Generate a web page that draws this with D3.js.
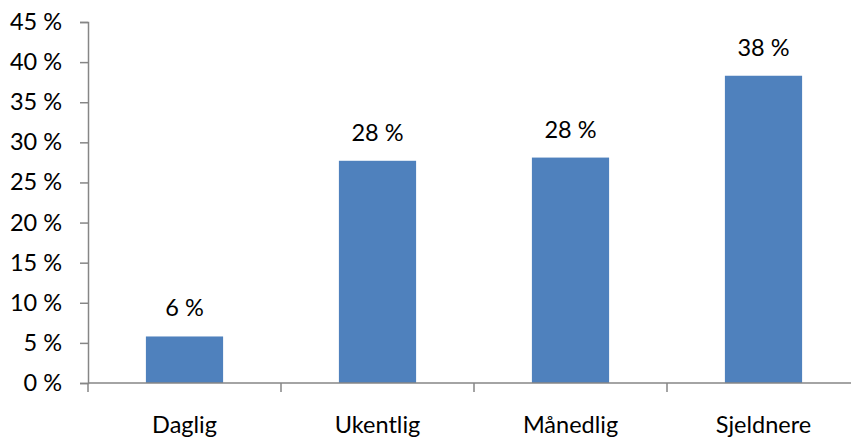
<!DOCTYPE html>
<html>
<head>
<meta charset="utf-8">
<script src="https://cdn.jsdelivr.net/npm/d3@7"></script>
<style>
  html, body { margin: 0; padding: 0; background: #fff; }
  svg { display: block; }
  text { font-family: Lato, "Open Sans", sans-serif; fill: #000; }
</style>
</head>
<body>
<svg id="chart" width="851" height="439"></svg>
<script>
// Frequency categories and their shares (percent)
const categories = ["Daglig", "Ukentlig", "Månedlig", "Sjeldnere"];
const shares = [5.8, 27.7, 28.1, 38.3];
const yTicks = [0, 5, 10, 15, 20, 25, 30, 35, 40, 45];

const width = 851, height = 439;
const margin = { top: 22, right: -9, bottom: 56, left: 88 };
const innerW = width - margin.left - margin.right;
const innerH = height - margin.top - margin.bottom;
const fontSize = 23.5;

const svg = d3.select("#chart");
const g = svg.append("g").attr("transform", `translate(${margin.left},${margin.top})`);

const x = d3.scaleBand().domain(categories).range([0, innerW]).paddingInner(0.6).paddingOuter(0.3);
const y = d3.scaleLinear().domain([0, 45]).range([innerH, 0]);

const pct = v => `${d3.format(".0f")(v)} %`;
const axisColor = "#868686";

// Y axis
const yAxis = g.append("g")
  .call(d3.axisLeft(y).tickValues(yTicks).tickSize(8).tickPadding(18).tickFormat(pct));
yAxis.select(".domain").attr("stroke", axisColor).attr("stroke-width", 1.5);
yAxis.selectAll(".tick line").attr("stroke", axisColor).attr("stroke-width", 1.5);
yAxis.selectAll(".tick text").attr("font-size", fontSize).attr("font-family", "Lato").attr("fill", "#000");

// Bars
g.selectAll("rect.bar")
  .data(categories)
  .join("rect")
  .attr("class", "bar")
  .attr("x", d => x(d))
  .attr("width", x.bandwidth())
  .attr("y", (d, i) => y(shares[i]))
  .attr("height", (d, i) => innerH - y(shares[i]))
  .attr("fill", "#4F81BD");

// Value labels
g.selectAll("text.val")
  .data(categories)
  .join("text")
  .attr("class", "val")
  .attr("x", d => x(d) + x.bandwidth() / 2)
  .attr("y", (d, i) => y(shares[i]) - 20)
  .attr("text-anchor", "middle")
  .attr("font-size", fontSize)
  .text((d, i) => pct(shares[i]));

// X axis: baseline with tick marks between categories
const step = x.step();
const bounds = d3.range(categories.length + 1).map(i => i * step);
g.append("line")
  .attr("x1", 0).attr("x2", innerW)
  .attr("y1", innerH).attr("y2", innerH)
  .attr("stroke", axisColor).attr("stroke-width", 1.5);
g.selectAll("line.xtick")
  .data(bounds)
  .join("line")
  .attr("class", "xtick")
  .attr("x1", d => d).attr("x2", d => d)
  .attr("y1", innerH).attr("y2", innerH + 9)
  .attr("stroke", axisColor).attr("stroke-width", 1.5);

g.selectAll("text.cat")
  .data(categories)
  .join("text")
  .attr("class", "cat")
  .attr("x", d => x(d) + x.bandwidth() / 2)
  .attr("y", innerH + 50)
  .attr("text-anchor", "middle")
  .attr("font-size", fontSize)
  .text(d => d);
</script>
</body>
</html>
